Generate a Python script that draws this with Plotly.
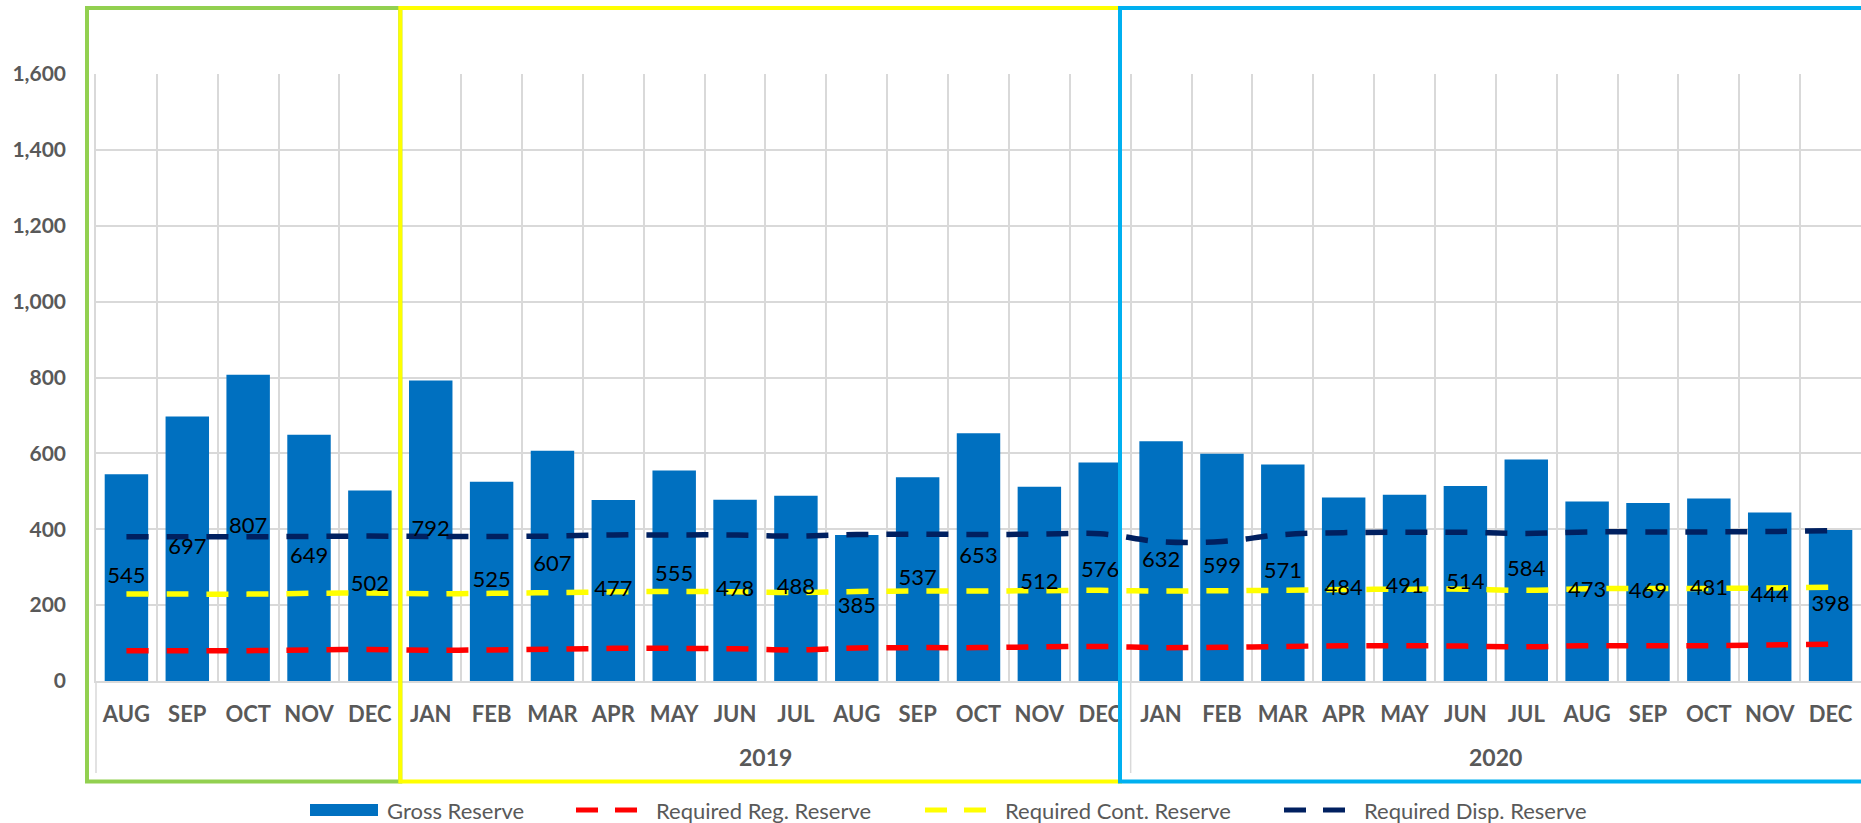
import plotly.graph_objects as go

# ---------------- data ----------------
months = ["AUG", "SEP", "OCT", "NOV", "DEC",
          "JAN", "FEB", "MAR", "APR", "MAY", "JUN", "JUL", "AUG", "SEP", "OCT", "NOV", "DEC",
          "JAN", "FEB", "MAR", "APR", "MAY", "JUN", "JUL", "AUG", "SEP", "OCT", "NOV", "DEC"]
year_labels = ["2019", "2020"]
group_sizes = [5, 12, 12]

gross_reserve = [545, 697, 807, 649, 502,
                 792, 525, 607, 477, 555, 478, 488, 385, 537, 653, 512, 576,
                 632, 599, 571, 484, 491, 514, 584, 473, 469, 481, 444, 398]
reg_reserve = [80, 80, 80, 82, 83,
               81, 82, 84, 86, 86, 85, 82, 87, 88, 88, 90, 91,
               88, 89, 91, 93, 93, 92, 90, 93, 93, 93, 95, 97]
cont_reserve = [229, 229, 229, 231, 232,
                230, 231, 233, 235, 236, 235, 233, 236, 237, 237, 238, 239,
                237, 238, 239, 241, 242, 242, 239, 243, 244, 244, 245, 247]
disp_reserve = [380, 380, 380, 381, 382,
                381, 381, 382, 385, 385, 385, 382, 386, 387, 386, 387, 388,
                367, 368, 386, 391, 392, 392, 389, 393, 393, 393, 394, 396]
y_ticks = [0, 200, 400, 600, 800, 1000, 1200, 1400, 1600]

series_names = ["Gross Reserve", "Required Reg. Reserve",
                "Required Cont. Reserve", "Required Disp. Reserve"]

# ---------------- styles / layout geometry ----------------
W, H = 1861, 823
ML, MR, MT, MB = 96, 0, 74, 142
PW, PH = W - ML - MR, H - MT - MB
BOTTOM = H - MB

BAR_C = "#0070C0"
RED, YEL, NAVY = "#FF0000", "#FFFF00", "#002060"
GRID = "#D9D9D9"
TXT = "#595959"
FONT = "Lato"


def px_x(px):
    return (px - ML) / PW


def px_y(py):
    return (BOTTOM - py) / PH


n = len(months)
xs = list(range(n))

fig = go.Figure()
fig.add_trace(go.Bar(x=xs, y=gross_reserve, name=series_names[0],
                     marker=dict(color=BAR_C, line=dict(width=0)),
                     showlegend=False, hoverinfo="skip"))
for vals, col, nm in [(reg_reserve, RED, series_names[1]),
                      (cont_reserve, YEL, series_names[2]),
                      (disp_reserve, NAVY, series_names[3])]:
    fig.add_trace(go.Scatter(x=xs, y=vals, name=nm, mode="lines",
                             line=dict(color=col, width=5.5, dash="22px,18px",
                                       shape="spline"),
                             showlegend=False, hoverinfo="skip"))

# data labels (drawn above the lines), centred in each bar
fig.add_trace(go.Scatter(x=xs, y=[v / 2 for v in gross_reserve],
                         text=[str(v) for v in gross_reserve], mode="text",
                         textposition="middle center",
                         textfont=dict(family=FONT, size=22, color="black"),
                         showlegend=False, hoverinfo="skip"))

shapes = []
annotations = []

# year group boxes
box_top, box_bot = px_y(8), px_y(781.5)
boxes = [(px_x(87), 5 / n, "#92D050"),
         (5 / n, px_x(1120), YEL),
         (px_x(1120), 1.02, "#00B0F0")]
for x0, x1, col in boxes:
    shapes.append(dict(type="rect", xref="paper", yref="paper",
                       x0=x0, x1=x1, y0=box_bot, y1=box_top,
                       line=dict(color=col, width=4), layer="above"))

# separators in the category label area
for k in [0, group_sizes[0] + group_sizes[1]]:
    shapes.append(dict(type="line", xref="paper", yref="paper",
                       x0=k / n, x1=k / n, y0=0, y1=px_y(773),
                       line=dict(color=GRID, width=1.5), layer="below"))

# year labels
start = group_sizes[0]
for lbl, size in zip(year_labels, group_sizes[1:]):
    annotations.append(dict(x=start + (size - 1) / 2, xref="x",
                            y=px_y(757), yref="paper", text=lbl,
                            showarrow=False, xanchor="center", yanchor="middle",
                            font=dict(family=FONT, size=23, color=TXT, weight="bold")))
    start += size

# custom legend
leg_y = px_y(810)
shapes.append(dict(type="rect", xref="paper", yref="paper",
                   x0=px_x(310), x1=px_x(378), y0=px_y(816), y1=px_y(804),
                   fillcolor=BAR_C, line=dict(width=0)))
legend_items = [(series_names[0], None, None, 385),
                (series_names[1], RED, (576, 637), 654),
                (series_names[2], YEL, (925, 988), 1003),
                (series_names[3], NAVY, (1284, 1347), 1362)]
for name, col, seg, tx in legend_items:
    if col is not None:
        shapes.append(dict(type="line", xref="paper", yref="paper",
                           x0=px_x(seg[0]), x1=px_x(seg[1]), y0=leg_y, y1=leg_y,
                           line=dict(color=col, width=5, dash="22px,17px")))
    annotations.append(dict(x=px_x(tx), y=leg_y, xref="paper", yref="paper",
                            text=name, showarrow=False, xanchor="left",
                            yanchor="middle",
                            font=dict(family=FONT, size=22, color=TXT)))

fig.update_layout(
    width=W, height=H,
    margin=dict(l=ML, r=MR, t=MT, b=MB),
    paper_bgcolor="white", plot_bgcolor="white",
    bargap=0.286,
    showlegend=False,
    shapes=shapes,
    annotations=annotations,
    xaxis=dict(range=[-0.5, n - 0.5], tickmode="array", tickvals=xs,
               ticktext=months, showgrid=False, zeroline=False,
               showline=True, linecolor=GRID, linewidth=1.5,
               ticks="", ticklabelstandoff=13,
               tickfont=dict(family=FONT, size=22, color=TXT, weight="bold"),
               minor=dict(tickmode="array", tickvals=[k - 0.5 for k in range(n + 1)],
                          showgrid=True, gridcolor=GRID, gridwidth=1.5, ticks="")),
    yaxis=dict(range=[0, y_ticks[-1]], tickmode="array", tickvals=y_ticks,
               tickformat=",", showgrid=True, gridcolor=GRID, gridwidth=1.5,
               zeroline=False, showline=True, linecolor=GRID, linewidth=1.5,
               ticks="", ticklabelstandoff=24,
               tickfont=dict(family=FONT, size=21, color=TXT, weight="bold")),
)

fig.write_html("out.html", config={"displayModeBar": False},
               post_script="document.body.style.margin='0';"
                           "document.body.style.overflow='hidden';")
